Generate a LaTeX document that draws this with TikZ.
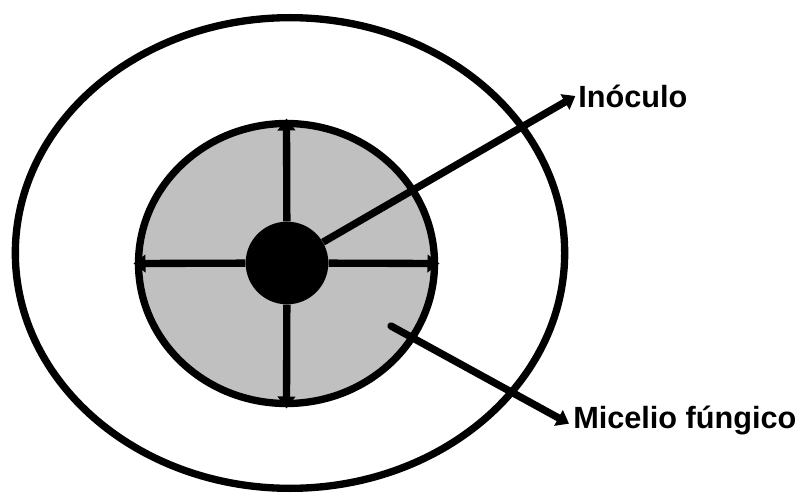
\documentclass[tikz,border=0pt]{standalone}
\usepackage{fontspec}
\setmainfont{Liberation Sans}
\usetikzlibrary{arrows.meta,positioning,shapes.geometric}
\tikzset{
 ring/.style={draw,ellipse,line width=5.5pt,inner sep=0pt},
 core/.style={circle,fill=black,inner sep=0pt,minimum size=62pt},
 arrow/.style={-{Triangle[length=9pt,width=13pt]},line width=5.5pt},
 label/.style={font=\bfseries\fontsize{23}{27}\selectfont,inner sep=0pt,anchor=west}
}

\begin{document}
\begin{tikzpicture}[x=0.75pt,y=-0.75pt]
\useasboundingbox (0,0) rectangle (806,495);
\node[ring,minimum width=412pt,minimum height=353pt] (outer) at (290,253) {};
\node[ring,fill={rgb,255:red,192;green,192;blue,192},minimum width=222pt,minimum height=210pt] (inner) at (286.5,263.5) {};
\node[core] (dot) at (287,263) {};
\draw[arrow,shorten >=-1pt] (dot) -- (inner.north);
\draw[arrow,shorten >=-1pt] (dot) -- (inner.south);
\draw[arrow,shorten >=-1pt] (dot) -- (inner.west);
\draw[arrow,shorten >=-1pt] (dot) -- (inner.east);
\node[label] (inoc) at (578,96) {Inóculo};
\node[label] (mic) at (573,421) {Micelio fúngico};
\coordinate (hyph) at (391,326);
\draw[arrow] (dot) -- ([xshift=-2pt]inoc.west);
\draw[arrow,line cap=round] (hyph) -- ([xshift=-3pt,yshift=-2pt]mic.west);
\end{tikzpicture}
\end{document}
